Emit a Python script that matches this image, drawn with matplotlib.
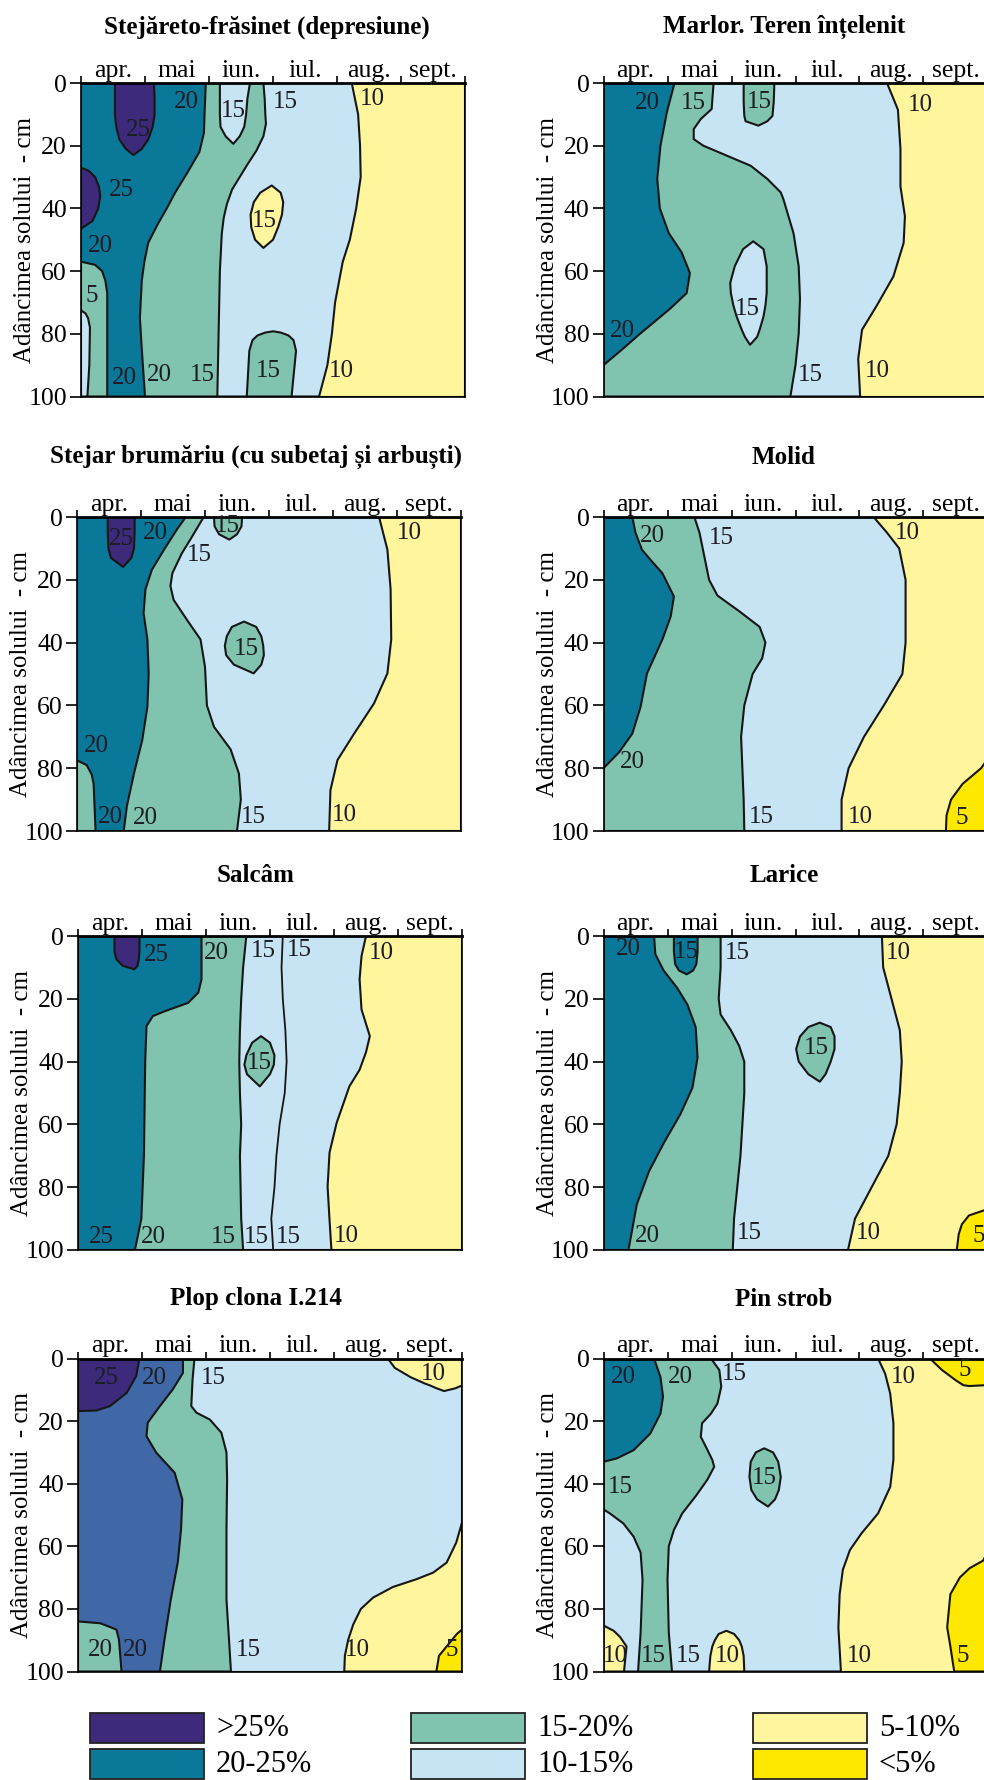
import numpy as np
import matplotlib
matplotlib.use("Agg")
import matplotlib.pyplot as plt
from matplotlib.patches import Rectangle

plt.rcParams['font.family'] = ['Liberation Serif', 'DejaVu Serif']

# axes: x = months 0..6 (apr. .. sept.), y = soil depth in cm
MONTHS = ["apr.", "mai", "iun.", "iul.", "aug.", "sept."]
DEPTH_TICKS = [0, 20, 40, 60, 80, 100]
D10 = [0, 10, 20, 30, 40, 50, 60, 70, 80, 90, 100]
FULL = ([0, 100], [0, 0], [6, 6])

COLORS = {
    ">25": "#3d2a7b",
    "20-25": "#0a7898",
    "20-25b": "#4067a6",
    "15-20": "#80c3af",
    "10-15": "#c7e4f5",
    "5-10": "#fff59c",
    "<5": "#ffe800",
}
LEGEND_CLASSES = [">25", "20-25", "15-20", "10-15", "5-10", "<5"]
LEGEND_TEXT = [">25%", "20-25%", "15-20%", "10-15%", "5-10%", "<5%"]

# isoline positions (month) read at given depths: (depth, right) or (depth, left, right)

# Stejareto-frasinet (depresiune)
sf_10 = ([0, 10, 20, 30, 40, 50, 57, 70, 80, 90, 100],
         [4.23, 4.33, 4.36, 4.37, 4.30, 4.20, 4.09, 3.97, 3.92, 3.85, 3.72])
sf_15 = ([0, 5, 10, 13, 17, 21.6, 26, 30, 34, 38.6, 43, 48, 60, 80, 100],
         [2.85, 2.87, 2.88, 2.89, 2.85, 2.74, 2.6, 2.48, 2.36, 2.28, 2.23, 2.2, 2.17, 2.15, 2.13])
sf_20 = ([0, 10, 16, 22, 29, 35, 40, 45, 51, 57, 63, 75, 85, 100],
         [1.95, 1.93, 1.92, 1.85, 1.65, 1.47, 1.34, 1.2, 1.05, 0.99, 0.95, 0.92, 0.95, 1.0])
sf_15_bl = ([57, 58, 60, 63, 67, 100], [0, 0.22, 0.33, 0.38, 0.41, 0.41])
sf_10_bl = ([72.5, 73.5, 75, 78, 90, 100], [0, 0.07, 0.11, 0.14, 0.13, 0.1])
sf_25_l = ([27, 28, 30, 33, 36, 40, 44, 46.5], [0, 0.12, 0.22, 0.28, 0.3, 0.27, 0.18, 0])
sf_25_top = ([0, 5, 10, 14, 18, 21, 23],
             [0.53, 0.53, 0.53, 0.55, 0.6, 0.7, 0.82], [1.14, 1.15, 1.15, 1.12, 1.05, 0.95, 0.82])
sf_10_top = ([0, 5, 10, 14, 17, 19.4],
             [2.17, 2.17, 2.17, 2.18, 2.26, 2.38], [2.64, 2.6, 2.58, 2.55, 2.48, 2.38])
sf_5_isl = ([32.7, 35, 38, 42, 46, 50, 52.6],
            [2.98, 2.8, 2.7, 2.65, 2.66, 2.72, 2.85], [2.98, 3.12, 3.16, 3.14, 3.08, 3.0, 2.85])
sf_15_bump = ([79.2, 79.6, 80.5, 82, 85.4, 100],
              [3.0, 2.88, 2.76, 2.68, 2.63, 2.59], [3.0, 3.12, 3.24, 3.32, 3.36, 3.29])
sf_labels = [(1.65, 6, "20"), (2.38, 9, "15"), (3.2, 6, "15"), (4.55, 5, "10"), (0.9, 15, "25"),
             (0.63, 34, "25"), (0.3, 52, "20"), (0.17, 68, "5"), (2.86, 44, "15"), (0.67, 94, "20"),
             (1.22, 93, "20"), (1.89, 93, "15"), (2.93, 92, "15"), (4.07, 92, "10")]

# Marlor. Teren intelenit
mr_10 = ([0, 8.5, 21, 33, 42.5, 51, 61.7, 71, 78.7, 88, 100],
         [4.43, 4.6, 4.64, 4.64, 4.71, 4.69, 4.53, 4.27, 4.04, 3.98, 4.01])
mr_15 = ([0, 8.3, 11.5, 14.7, 17.9, 20, 23.2, 26.4, 30.6, 34.9, 37, 48, 58.5, 69, 80, 90, 100],
         [1.72, 1.69, 1.52, 1.41, 1.41, 1.56, 1.93, 2.3, 2.56, 2.77, 2.81, 2.97, 3.05, 3.07, 3.05, 3.0, 2.92])
mr_20 = ([0, 9.3, 20, 30.6, 40, 47.9, 54, 60.6, 67, 72, 80, 85, 90],
         [1.11, 0.99, 0.89, 0.84, 0.88, 1.02, 1.22, 1.35, 1.3, 1.04, 0.57, 0.29, 0])
mr_15_top = ([0, 6, 10.5, 12.2, 13.6], [2.19, 2.19, 2.2, 2.22, 2.42], [2.67, 2.66, 2.64, 2.56, 2.42])
mr_10_isl = ([50.5, 53, 58.5, 63.8, 67, 71, 74.5, 78.7, 81, 83.5],
             [2.34, 2.18, 2.05, 1.98, 1.99, 2.03, 2.08, 2.16, 2.21, 2.29],
             [2.34, 2.5, 2.55, 2.55, 2.55, 2.53, 2.5, 2.44, 2.4, 2.29])
mr_labels = [(0.68, 6.4, "20"), (1.4, 6.4, "15"), (2.43, 6, "15"), (4.95, 7, "10"), (2.24, 72, "15"),
             (0.3, 79, "20"), (3.23, 93, "15"), (4.28, 92, "10")]

# Stejar brumariu
sb_10 = ([0, 10.4, 23, 39, 49.8, 59.4, 69, 77.4, 87, 100],
         [4.72, 4.85, 4.9, 4.91, 4.85, 4.64, 4.33, 4.07, 3.96, 3.94])
sb_15 = ([0, 7.2, 11.5, 17.9, 22, 26.4, 32.8, 39, 47.7, 60, 66.8, 74, 81.7, 90, 100],
         [1.98, 1.77, 1.64, 1.49, 1.46, 1.51, 1.72, 1.93, 2.0, 2.03, 2.14, 2.4, 2.53, 2.56, 2.5])
sb_20 = ([0, 4, 10.4, 16.8, 23, 30.6, 39, 49.8, 60.4, 71, 81.7, 92, 100],
         [1.7, 1.56, 1.36, 1.17, 1.07, 1.04, 1.1, 1.12, 1.1, 1.02, 0.89, 0.78, 0.73])
sb_15_bl = ([77.5, 79, 82, 85, 100], [0, 0.15, 0.23, 0.26, 0.29])
sb_25_top = ([0, 5, 10, 13, 15.9], [0.48, 0.48, 0.49, 0.53, 0.72], [0.9, 0.9, 0.89, 0.85, 0.72])
sb_15_top = ([0, 3, 5.5, 7.2], [2.14, 2.15, 2.22, 2.38], [2.58, 2.57, 2.5, 2.38])
sb_15_isl = ([33.3, 35, 38, 41, 44, 47, 49.8],
             [2.61, 2.42, 2.34, 2.31, 2.33, 2.45, 2.76], [2.61, 2.8, 2.88, 2.91, 2.92, 2.88, 2.76])
sb_labels = [(1.23, 5.1, "20"), (1.91, 12, "15"), (0.7, 7, "25"), (2.35, 3, "15"), (2.65, 42, "15"),
             (5.2, 5, "10"), (0.3, 73, "20"), (0.52, 95.5, "20"), (1.07, 96, "20"), (2.76, 95.5, "15"),
             (4.17, 95, "10")]

# Molid
ml_5 = ([77, 78, 80, 85, 90, 95, 100], [6, 5.97, 5.9, 5.61, 5.43, 5.36, 5.35], [6, 6, 6, 6, 6, 6, 6])
ml_10 = ([0, 5, 10, 20, 30, 40, 50, 60, 70, 80, 90, 100],
         [4.22, 4.43, 4.62, 4.72, 4.72, 4.72, 4.67, 4.38, 4.07, 3.83, 3.72, 3.72])
ml_15 = ([0, 5, 10, 20, 25, 30, 35, 40, 45, 50, 60, 70, 80, 90, 100],
         [1.42, 1.5, 1.55, 1.65, 1.78, 2.12, 2.44, 2.53, 2.48, 2.33, 2.2, 2.15, 2.17, 2.19, 2.2])
ml_20 = ([0, 5, 10.4, 14, 17.9, 25.3, 31.7, 39, 49.8, 60.4, 69, 75, 80],
         [0.45, 0.5, 0.6, 0.75, 0.92, 1.1, 1.05, 0.92, 0.68, 0.58, 0.45, 0.24, 0])
ml_labels = [(0.76, 6.2, "20"), (1.84, 6.7, "15"), (4.75, 5, "10"), (0.45, 78, "20"),
             (2.47, 95.5, "15"), (4.01, 95.5, "10"), (5.59, 96, "5")]

# Salcam
sc_10 = ([0, 6.4, 13.8, 23.4, 31.9, 37, 42.6, 47.9, 59.6, 69, 79.8, 90.4, 100],
         [4.5, 4.43, 4.4, 4.43, 4.56, 4.5, 4.4, 4.24, 4.04, 3.93, 3.9, 3.93, 3.96])
sc_15 = (D10, [2.63, 2.58, 2.55, 2.53, 2.52, 2.53, 2.55, 2.53, 2.54, 2.55, 2.58])
sc_15_ridge = (D10, [3.2, 3.18, 3.2, 3.24, 3.26, 3.23, 3.15, 3.1, 3.07, 3.02, 3.05])
sc_20 = ([0, 10, 13.8, 18, 21.3, 24, 25.5, 28.7, 40, 70, 90, 100],
         [1.93, 1.93, 1.93, 1.88, 1.72, 1.35, 1.17, 1.07, 1.05, 1.03, 0.99, 0.89])
sc_25_top = ([0, 5, 7.4, 9.5, 10.6], [0.57, 0.57, 0.6, 0.7, 0.88], [0.96, 0.96, 0.95, 0.93, 0.88])
sc_15_isl = ([31.9, 34, 38, 41, 44, 47.9],
             [2.86, 2.72, 2.63, 2.6, 2.64, 2.84], [2.86, 3.0, 3.07, 3.06, 3.0, 2.84])
sc_labels = [(1.22, 5.9, "25"), (2.16, 5.3, "20"), (2.89, 4.8, "15"), (3.46, 4.6, "15"),
             (4.74, 5.3, "10"), (2.84, 40.4, "15"), (0.36, 96, "25"), (1.17, 96, "20"),
             (2.27, 96, "15"), (2.79, 96, "15"), (3.28, 96, "15"), (4.19, 95.7, "10")]

# Larice
lr_5 = ([87, 89, 91.8, 95, 100], [6.0, 5.71, 5.6, 5.55, 5.52], [6, 6, 6, 6, 6])
lr_10 = (D10, [4.35, 4.37, 4.5, 4.63, 4.66, 4.63, 4.58, 4.45, 4.19, 3.93, 3.82])
lr_15 = ([0, 10, 20, 25, 30, 35, 40, 50, 60, 70, 80, 90, 100],
         [1.83, 1.83, 1.8, 1.83, 1.99, 2.12, 2.2, 2.2, 2.17, 2.14, 2.09, 2.04, 2.02])
lr_20 = ([0, 5.8, 11, 16.5, 21.8, 29, 38.7, 48.3, 56.8, 66, 75, 85.5, 100],
         [0.79, 0.81, 0.94, 1.15, 1.31, 1.44, 1.47, 1.39, 1.2, 0.94, 0.71, 0.52, 0.39])
lr_20_top = ([0, 5, 9, 11, 12.2], [1.1, 1.1, 1.12, 1.18, 1.3], [1.47, 1.47, 1.45, 1.4, 1.3])
lr_15_isl = ([27.6, 29, 32, 36, 40, 44, 46.4],
             [3.38, 3.2, 3.07, 3.01, 3.05, 3.2, 3.38], [3.38, 3.55, 3.61, 3.61, 3.55, 3.47, 3.38])
lr_labels = [(0.39, 4.2, "20"), (1.3, 5, "15"), (2.09, 5.3, "15"), (4.6, 5.3, "10"), (3.32, 35.6, "15"),
             (0.68, 95.5, "20"), (2.28, 94.5, "15"), (4.14, 94.5, "10"), (5.86, 95.5, "5")]

# Plop clona I.214
pl_5_top = ([0, 3, 6, 8, 8.6, 9.5, 10.4],
            [4.84, 4.95, 5.2, 5.42, 5.5, 5.6, 5.72], [6, 6, 6, 6, 6, 5.9, 5.72])
pl_5_bot = ([52.4, 58.8, 65.2, 68.4, 70.5, 73, 76.4, 80, 85, 90, 95, 100],
            [6, 5.91, 5.76, 5.55, 5.29, 4.92, 4.61, 4.42, 4.3, 4.22, 4.17, 4.16],
            [6] * 12)
pl_0 = ([86.6, 88, 90, 95, 100], [6, 5.92, 5.84, 5.64, 5.6], [6] * 5)
pl_15 = ([0, 6.7, 15.2, 17.3, 19.5, 23.7, 30, 38.6, 54.6, 77, 90, 100],
         [1.82, 1.79, 1.77, 1.85, 2.06, 2.24, 2.32, 2.33, 2.32, 2.32, 2.36, 2.39])
pl_20 = ([0, 4.6, 9.9, 15.2, 20.5, 24.8, 30, 36.5, 45, 54.6, 65, 77, 90, 100],
         [1.64, 1.64, 1.48, 1.28, 1.09, 1.07, 1.22, 1.51, 1.63, 1.61, 1.56, 1.45, 1.35, 1.28])
pl_15_bl = ([84, 84.6, 86.6, 89.8, 100], [0, 0.35, 0.6, 0.64, 0.68])
pl_25 = ([0, 5.6, 11, 15.2, 16.6, 16.8], [0.96, 0.91, 0.76, 0.5, 0.29, 0])
pl_labels = [(0.44, 6.2, "25"), (1.2, 6.2, "20"), (2.11, 6.2, "15"), (5.55, 5.1, "10"),
             (0.35, 93, "20"), (0.89, 93, "20"), (2.66, 93, "15"), (4.37, 93, "10"), (5.84, 93, "5")]

# Pin strob
ps_5_top = ([0, 3.7, 6.9, 8.5, 8.8], [5.1, 5.29, 5.5, 5.62, 5.71], [6, 6, 6, 6, 5.71])
ps_5_bot = ([62, 64.6, 67, 69.9, 75.3, 85.9, 92, 100],
            [6, 5.93, 5.72, 5.57, 5.42, 5.37, 5.42, 5.48], [6] * 8)
ps_10 = ([0, 4.8, 11.2, 20.7, 32.4, 41, 49.5, 55.9, 61.2, 67.5, 75.3, 85.9, 100],
         [4.29, 4.4, 4.48, 4.53, 4.53, 4.48, 4.29, 4.03, 3.85, 3.74, 3.69, 3.67, 3.71])
ps_15 = ([0, 3.7, 9, 14.4, 17.6, 20.7, 25, 28.2, 32.4, 34.6, 38.8, 44, 49.5, 54.8, 60, 70.7, 87.5, 100],
         [1.68, 1.81, 1.84, 1.78, 1.68, 1.54, 1.52, 1.6, 1.7, 1.73, 1.62, 1.44, 1.23, 1.1, 1.02, 1.0, 1.02, 1.07])
ps_10_l = ([48.2, 49.5, 52.7, 56.9, 62, 70.7, 87.5, 100], [0, 0.1, 0.31, 0.47, 0.58, 0.61, 0.58, 0.54])
ps_20 = ([0, 5.9, 12.2, 17.6, 24, 29.3, 31.9, 33], [0.79, 0.89, 0.93, 0.89, 0.73, 0.47, 0.21, 0])
ps_5_bl = ([85.3, 87, 89, 92, 96, 100], [0, 0.16, 0.26, 0.36, 0.34, 0.32])
ps_5_hump = ([87, 88, 90, 92, 95, 100], [1.92, 1.8, 1.74, 1.7, 1.67, 1.65], [1.92, 2.04, 2.12, 2.16, 2.19, 2.2])
ps_15_isl = ([28.7, 30, 33, 37.8, 42, 45, 47.3],
             [2.51, 2.38, 2.3, 2.28, 2.31, 2.4, 2.57], [2.51, 2.65, 2.73, 2.77, 2.74, 2.68, 2.57])
ps_labels = [(0.31, 5.9, "20"), (1.2, 5.9, "20"), (2.04, 4.8, "15"), (4.69, 5.9, "10"), (5.65, 3.7, "5"),
             (0.26, 41, "15"), (2.51, 38.3, "15"), (0.18, 95, "10"), (0.78, 95, "15"), (1.33, 95, "15"),
             (1.93, 95, "10"), (3.99, 95, "10"), (5.62, 95, "5")]

PANELS = [
    ("Stejăreto-frăsinet (depresiune)", 0, 0,
     [("5-10", FULL), ("10-15", sf_10), ("15-20", sf_15), ("20-25", sf_20), ("15-20", sf_15_bl),
      ("10-15", sf_10_bl), (">25", sf_25_l), (">25", sf_25_top), ("10-15", sf_10_top),
      ("5-10", sf_5_isl), ("15-20", sf_15_bump)], sf_labels, []),
    ("Marlor. Teren înțelenit", 0, 1,
     [("5-10", FULL), ("10-15", mr_10), ("15-20", mr_15), ("20-25", mr_20), ("15-20", mr_15_top),
      ("10-15", mr_10_isl)], mr_labels, []),
    ("Stejar brumăriu (cu subetaj și arbuști)", 1, 0,
     [("5-10", FULL), ("10-15", sb_10), ("15-20", sb_15), ("20-25", sb_20), ("15-20", sb_15_bl),
      (">25", sb_25_top), ("15-20", sb_15_top), ("15-20", sb_15_isl)], sb_labels, []),
    ("Molid", 1, 1,
     [("5-10", FULL), ("<5", ml_5), ("10-15", ml_10), ("15-20", ml_15), ("20-25", ml_20)], ml_labels, []),
    ("Salcâm", 2, 0,
     [("5-10", FULL), ("10-15", sc_10), ("15-20", sc_15), ("20-25", sc_20), (">25", sc_25_top),
      ("15-20", sc_15_isl)], sc_labels, [sc_15_ridge]),
    ("Larice", 2, 1,
     [("5-10", FULL), ("<5", lr_5), ("10-15", lr_10), ("15-20", lr_15), ("20-25", lr_20),
      ("20-25", lr_20_top), ("15-20", lr_15_isl)], lr_labels, []),
    ("Plop clona I.214", 3, 0,
     [("10-15", FULL), ("5-10", pl_5_top), ("5-10", pl_5_bot), ("<5", pl_0), ("15-20", pl_15),
      ("20-25b", pl_20), ("15-20", pl_15_bl), (">25", pl_25)], pl_labels, []),
    ("Pin strob", 3, 1,
     [("5-10", FULL), ("<5", ps_5_top), ("<5", ps_5_bot), ("10-15", ps_10), ("15-20", ps_15),
      ("10-15", ps_10_l), ("20-25", ps_20), ("5-10", ps_5_bl), ("5-10", ps_5_hump),
      ("15-20", ps_15_isl)], ps_labels, []),
]

# layout in pixels
W, H = 984, 1780
ROW_TOP = [83, 517, 936, 1358.5]
ROW_BOT = [396.5, 831, 1250, 1671.5]
LEFT_X0 = [81, 77, 78, 78]
RIGHT_X0 = 603.5
AX_W = 384
TITLE_Y = [27, 457, 876, 1299]
TITLE_X = [[267, 784], [256, 784], [256, 784], [256, 784]]

fig = plt.figure(figsize=(W / 100, H / 100), dpi=100)


def fill_layer(ax, cls, shape):
    if len(shape) == 2:
        d, right = shape
        left = np.zeros(len(d))
    else:
        d, left, right = shape
    d = np.asarray(d, float)
    left = np.asarray(left, float)
    right = np.asarray(right, float)
    xs = np.r_[left, right[::-1]]
    ys = np.r_[d, d[::-1]]
    ax.fill(xs, ys, facecolor=COLORS[cls], edgecolor="#161616", linewidth=1.5,
            joinstyle="round", zorder=1)


for title, row, col, layers, labels, ridges in PANELS:
    x0 = LEFT_X0[row] if col == 0 else RIGHT_X0
    top, bot = ROW_TOP[row], ROW_BOT[row]
    ax = fig.add_axes([x0 / W, 1 - bot / H, AX_W / W, (bot - top) / H])
    for cls, shape in layers:
        fill_layer(ax, cls, shape)
    for d, x in ridges:
        ax.plot(x, d, color="#161616", lw=1.3, zorder=2)
    for x, d, s in labels:
        ax.text(x, d, s, ha="center", va="center", fontsize=18, color="#1c1c24", zorder=5)

    ax.set_xlim(0, 6)
    ax.set_ylim(100, 0)
    ax.set_xticks(np.arange(7))
    ax.set_xticks(np.arange(6) + 0.5, minor=True)
    ax.set_xticklabels(MONTHS, minor=True, fontsize=18.5)
    ax.tick_params(axis="x", which="major", top=True, bottom=False, labeltop=False,
                   labelbottom=False, length=5, width=1.2, direction="out")
    ax.tick_params(axis="x", which="minor", top=True, bottom=False, labeltop=True,
                   labelbottom=False, length=0, pad=1)
    ax.set_yticks(DEPTH_TICKS)
    ax.set_yticklabels([str(v) for v in DEPTH_TICKS], fontsize=18.5)
    ax.tick_params(axis="y", length=8, width=1.2, pad=2)
    for side in ["left", "right", "bottom"]:
        ax.spines[side].set_linewidth(1.2)
    ax.spines["top"].set_linewidth(2)
    ax.set_ylabel("Adâncimea solului  - cm", fontsize=18)
    ax.yaxis.set_label_coords(-0.117, 0.5)

    fig.text(TITLE_X[row][col] / W, 1 - TITLE_Y[row] / H, title, ha="center", va="center",
             fontsize=18, fontweight="bold")

# legend
lax = fig.add_axes([0, 0, 1, 1], zorder=-1)
lax.set_xlim(0, W)
lax.set_ylim(H, 0)
lax.axis("off")
LEG_BOX_X = [90, 411, 753]
LEG_BOX_Y = [1713, 1749]
for i, cls in enumerate(LEGEND_CLASSES):
    c, r = i // 2, i % 2
    lax.add_patch(Rectangle((LEG_BOX_X[c], LEG_BOX_Y[r]), 114, 30, facecolor=COLORS[cls],
                            edgecolor="#222", lw=1.3))
    lax.text(LEG_BOX_X[c] + 126, LEG_BOX_Y[r] + 15, LEGEND_TEXT[i], ha="left", va="center",
             fontsize=22)

fig.savefig("out.png", dpi=100)
